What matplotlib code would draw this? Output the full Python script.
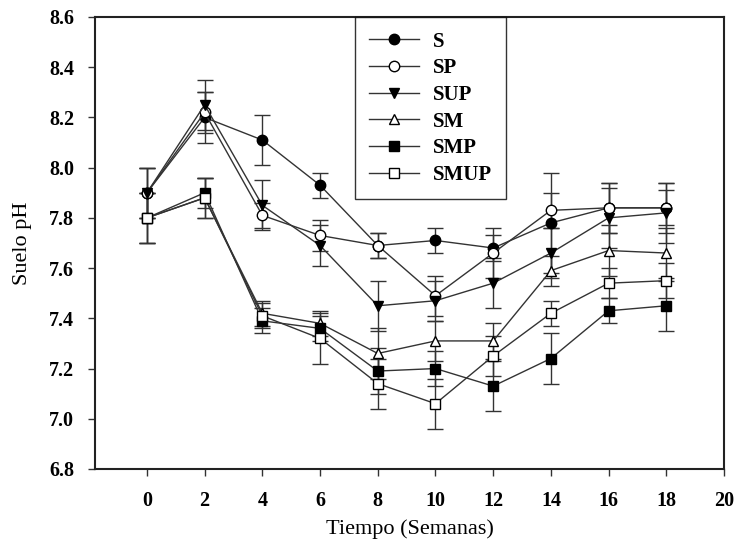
import numpy as np
import matplotlib.pyplot as plt

plt.rcParams['font.family'] = ['Liberation Serif', 'DejaVu Serif']

semanas = [0, 2, 4, 6, 8, 10, 12, 14, 16, 18]

# pH medio del suelo por tratamiento
ph_S = [7.90, 8.20, 8.11, 7.93, 7.69, 7.71, 7.68, 7.78, 7.84, 7.84]
ph_SP = [7.90, 8.22, 7.81, 7.73, 7.69, 7.49, 7.66, 7.83, 7.84, 7.84]
ph_SUP = [7.90, 8.25, 7.85, 7.69, 7.45, 7.47, 7.54, 7.66, 7.80, 7.82]
ph_SM = [7.80, 7.88, 7.42, 7.38, 7.26, 7.31, 7.31, 7.59, 7.67, 7.66]
ph_SMP = [7.80, 7.90, 7.39, 7.36, 7.19, 7.20, 7.13, 7.24, 7.43, 7.45]
ph_SMUP = [7.80, 7.88, 7.41, 7.32, 7.14, 7.06, 7.25, 7.42, 7.54, 7.55]

# desviaciones
err_S = [0.10, 0.10, 0.10, 0.05, 0.05, 0.05, 0.05, 0.20, 0.10, 0.10]
err_SP = [0.10, 0.08, 0.05, 0.06, 0.05, 0.08, 0.10, 0.07, 0.10, 0.07]
err_SUP = [0.10, 0.10, 0.10, 0.08, 0.10, 0.08, 0.10, 0.10, 0.12, 0.12]
err_SM = [0.10, 0.08, 0.05, 0.05, 0.10, 0.08, 0.07, 0.06, 0.10, 0.10]
err_SMP = [0.10, 0.06, 0.05, 0.05, 0.09, 0.07, 0.10, 0.10, 0.05, 0.10]
err_SMUP = [0.10, 0.08, 0.05, 0.10, 0.10, 0.10, 0.08, 0.05, 0.06, 0.07]

series = [
    ('S', ph_S, err_S, 'o', 'black'),
    ('SP', ph_SP, err_SP, 'o', 'white'),
    ('SUP', ph_SUP, err_SUP, 'v', 'black'),
    ('SM', ph_SM, err_SM, '^', 'white'),
    ('SMP', ph_SMP, err_SMP, 's', 'black'),
    ('SMUP', ph_SMUP, err_SMUP, 's', 'white'),
]

fig = plt.figure(figsize=(7.34, 5.43), dpi=100)
ax = fig.add_axes([0.1294, 0.1363, 0.8570, 0.8324])

lineas = []
for nombre, y, e, m, fc in series:
    cont = ax.errorbar(semanas, y, yerr=e, marker=m, markersize=7.5 if m != 's' else 7,
                       markerfacecolor=fc, markeredgecolor='black', markeredgewidth=1,
                       color='#333333', linewidth=1, ecolor='#333333', elinewidth=1,
                       capsize=5.5, capthick=1, label=nombre)
    lineas.append(cont[0])

ax.set_xlim(-1.8, 20)
ax.set_ylim(6.8, 8.6)
ax.set_xticks(range(0, 21, 2))
ax.set_yticks(np.arange(6.8, 8.61, 0.2))
ax.set_yticklabels([f'{v:.1f}' for v in np.arange(6.8, 8.61, 0.2)])
for lab in ax.get_xticklabels() + ax.get_yticklabels():
    lab.set_fontweight('bold')
    lab.set_fontsize(14.5)
ax.tick_params(direction='out', length=5, width=1, color='#333333')
ax.tick_params(axis='x', pad=11)
ax.tick_params(axis='y', pad=10)
for s in ax.spines.values():
    s.set_linewidth(1.5)
    s.set_color('#222222')

ax.set_xlabel('Tiempo (Semanas)', fontsize=16, labelpad=6)
ax.set_ylabel('Suelo pH', fontsize=16, labelpad=12)

# leyenda solo con línea y marcador, sin barras de error
leg = ax.legend(lineas, [s[0] for s in series], loc='upper left',
                bbox_to_anchor=(0.413, 1.0), frameon=True,
                fancybox=False, edgecolor='black', handlelength=2.4,
                prop={'weight': 'bold', 'size': 15}, labelspacing=0.32,
                borderpad=0.7, handletextpad=0.63, borderaxespad=0)
leg.get_frame().set_linewidth(1)

fig.savefig('out.png', dpi=100)
